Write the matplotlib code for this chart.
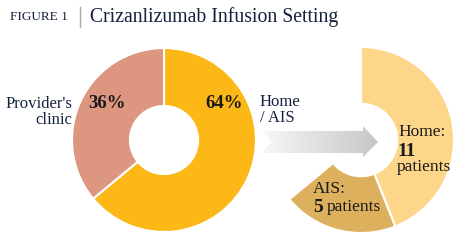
import numpy as np
import matplotlib
matplotlib.use('Agg')
import matplotlib.pyplot as plt
from matplotlib.patches import Polygon

# data
setting_labels = ["Home / AIS", "Provider's clinic"]
setting_pct = [64, 36]
home_ais_labels = ["Home", "AIS"]
home_ais_patients = [11, 5]

plt.rcParams['font.family'] = ['Liberation Serif', 'DejaVu Serif']
navy = '#14213d'

W, H = 466, 250
fig = plt.figure(figsize=(W / 100, H / 100), dpi=100)
ax = fig.add_axes([0, 0, 1, 1])

def Y(y):
    return H - y

# left donut
ax.pie(setting_pct, colors=['#fbb817', '#dd9680'], startangle=90, counterclock=False,
       center=(164, Y(140)), radius=92, frame=True,
       wedgeprops=dict(width=92 * 0.63, edgecolor='white', linewidth=1.5))

# right donut: the 64% split by patient counts, rest left empty
total = sum(home_ais_patients)
sub = [setting_pct[0] * n / total for n in home_ais_patients]
wedges, _ = ax.pie(sub + [setting_pct[1]], colors=['#fdd68a', '#ddb05d', 'none'],
                   startangle=90, counterclock=False,
                   center=(361, Y(140)), radius=93, frame=True,
                   wedgeprops=dict(width=93 * 0.61, edgecolor='white', linewidth=1.5))
wedges[2].set_edgecolor('none')
ax.set_xlim(0, W)
ax.set_ylim(0, H)
ax.set_aspect('auto')
ax.axis('off')

# gradient arrow
pts = [(262, 131), (363, 131), (363, 126), (378, 142), (363, 157),
       (363, 153), (262, 153), (272, 142)]
arrow = Polygon([(x, Y(y)) for x, y in pts], closed=True, facecolor='none', edgecolor='none')
ax.add_patch(arrow)
grad = np.linspace(0, 1, 256).reshape(1, -1)
cmap = matplotlib.colors.LinearSegmentedColormap.from_list('g', ['#f7f7f7', '#c6c7c9'])
im = ax.imshow(grad, cmap=cmap, extent=(262, 378, Y(158), Y(125)), aspect='auto', zorder=3)
im.set_clip_path(arrow)

# title
ax.text(10, Y(17), 'FIGURE 1', fontsize=9.5, color=navy, va='center')
ax.plot([80, 80], [Y(7), Y(27)], color='#aaaaaa', lw=1)
ax.text(90, Y(17), 'Crizanlizumab Infusion Setting', fontsize=14.2, color=navy, va='center')

# labels
ax.text(72, Y(112), "Provider's\nclinic", fontsize=12, color=navy, ha='right', va='center',
        linespacing=0.95)
ax.text(88, Y(104), f'{setting_pct[1]}%', fontsize=13.5, fontweight='bold', color='#1a1a1a',
        va='center')
ax.text(205, Y(103), f'{setting_pct[0]}%', fontsize=13.5, fontweight='bold', color='#1a1a1a',
        va='center')
ax.text(260, Y(110), 'Home\n/ AIS', fontsize=12, color=navy, va='center', linespacing=0.95)

ax.text(398, Y(132), f'{home_ais_labels[0]}:', fontsize=12.5, color='#1a1a1a', va='center')
ax.text(397, Y(152), f'{home_ais_patients[0]}', fontsize=14, fontweight='bold',
        color='#1a1a1a', va='center')
ax.text(397, Y(167), 'patients', fontsize=12.5, color='#1a1a1a', va='center')
ax.text(313, Y(189), f'{home_ais_labels[1]}:', fontsize=12.5, color='#1a1a1a', va='center')
ax.text(313, Y(207), f'{home_ais_patients[1]}', fontsize=14, fontweight='bold',
        color='#1a1a1a', va='center')
ax.text(327, Y(207), 'patients', fontsize=12.5, color='#1a1a1a', va='center')

fig.savefig('out.png', dpi=100)
